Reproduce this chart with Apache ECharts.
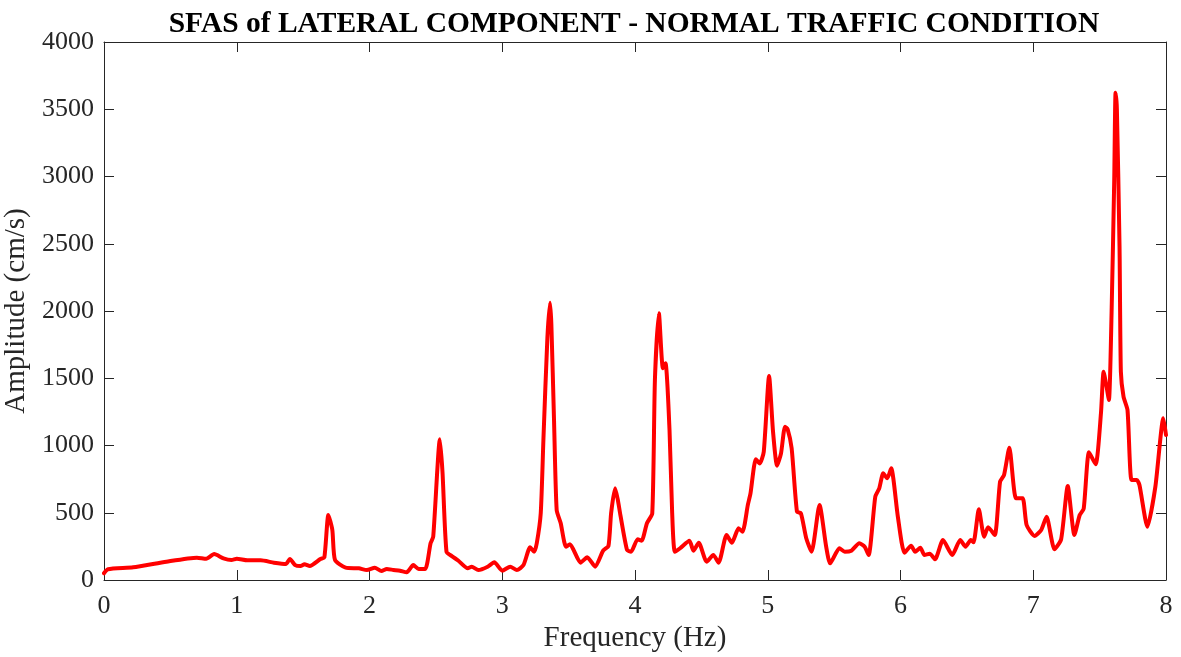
<!DOCTYPE html>
<html>
<head>
<meta charset="utf-8">
<script src="https://cdn.jsdelivr.net/npm/echarts@6/dist/echarts.min.js"></script>
<style>
html,body{margin:0;padding:0;background:#fff;}
#chart{width:1181px;height:657px;}
</style>
</head>
<body>
<div id="chart"></div>
<script>
const titleText = 'SFAS of LATERAL COMPONENT - NORMAL TRAFFIC CONDITION';
const xName = 'Frequency (Hz)';
const yName = 'Amplitude (cm/s)';

const freq = [0,0.03,0.22,0.47,0.70,0.77,0.83,0.90,0.96,1.00,1.08,1.18,1.28,1.37,1.40,1.44,1.48,1.51,1.55,1.63,1.66,1.69,1.72,1.74,1.82,1.92,1.98,2.04,2.09,2.13,2.18,2.23,2.28,2.33,2.37,2.42,2.46,2.48,2.53,2.55,2.58,2.62,2.67,2.74,2.77,2.82,2.89,2.94,3.00,3.06,3.11,3.16,3.21,3.24,3.26,3.29,3.31,3.34,3.36,3.37,3.39,3.41,3.44,3.48,3.51,3.59,3.64,3.70,3.76,3.80,3.82,3.85,3.87,3.89,3.94,3.97,4.02,4.05,4.09,4.13,4.15,4.18,4.21,4.23,4.26,4.28,4.30,4.34,4.41,4.44,4.48,4.54,4.59,4.63,4.69,4.73,4.78,4.81,4.85,4.87,4.91,4.94,4.97,5.01,5.04,5.07,5.10,5.13,5.15,5.18,5.22,5.25,5.29,5.33,5.39,5.44,5.47,5.54,5.58,5.63,5.69,5.73,5.76,5.81,5.84,5.87,5.90,5.93,5.98,6.03,6.08,6.11,6.15,6.18,6.22,6.26,6.32,6.39,6.45,6.49,6.53,6.55,6.59,6.63,6.66,6.71,6.75,6.78,6.82,6.87,6.92,6.95,7.01,7.06,7.10,7.16,7.21,7.26,7.31,7.35,7.38,7.42,7.47,7.51,7.53,7.55,7.57,7.59,7.61,7.62,7.63,7.65,7.66,7.68,7.71,7.74,7.78,7.80,7.86,7.92,7.98,8.00];
const amp = [50,80,94,136,166,158,193,161,149,158,146,146,129,119,156,111,104,117,104,156,169,483,372,149,92,87,74,92,67,82,75,69,57,111,82,82,273,322,1046,800,210,178,143,87,99,74,99,132,69,99,74,111,243,210,273,498,1041,1800,2062,1900,1190,520,424,248,265,129,169,99,218,253,496,682,600,483,223,210,303,292,422,496,1487,1983,1574,1611,1115,498,210,236,292,218,277,136,186,129,335,277,384,359,558,644,897,867,954,1517,1100,850,942,1140,1120,979,508,496,310,210,558,248,124,236,210,218,273,248,186,619,682,793,756,830,471,203,255,210,240,186,196,154,297,186,297,248,297,280,526,322,392,335,731,781,984,607,607,409,327,372,471,228,303,699,335,483,530,950,860,1239,1549,1450,1338,1985,2974,3623,3500,2478,1549,1363,1264,744,744,706,396,694,1202,1078];

const xTicks = [0,1,2,3,4,5,6,7,8];
const yTicks = [0,500,1000,1500,2000,2500,3000,3500,4000];

const seriesData = freq.map((f, i) => [f, amp[i]]);

const FONT = '"Liberation Serif","Times New Roman",serif';
const AX = '#262626';

const chart = echarts.init(document.getElementById('chart'), null, {renderer: 'canvas'});

const baseX = {
  type: 'value', min: xTicks[0], max: xTicks[xTicks.length-1], interval: 1,
  axisLine: {show: true, onZero: false, lineStyle: {color: AX, width: 1}},
  axisTick: {show: true, inside: true, length: 10, lineStyle: {color: AX, width: 1}},
  splitLine: {show: false}
};
const baseY = {
  type: 'value', min: yTicks[0], max: yTicks[yTicks.length-1], interval: 500,
  axisLine: {show: true, onZero: false, lineStyle: {color: AX, width: 1}},
  axisTick: {show: true, inside: true, length: 10, lineStyle: {color: AX, width: 1}},
  splitLine: {show: false}
};

chart.setOption({
  animation: false,
  backgroundColor: '#ffffff',
  title: {
    text: titleText,
    left: 629, top: 4, textAlign: 'center',
    textStyle: {fontFamily: FONT, fontWeight: 'bold', fontSize: 29.5, color: '#000'}
  },
  grid: {left: 104, right: 15, top: 42, bottom: 77, containLabel: false, outerBoundsMode: 'none'},
  xAxis: [
    Object.assign({}, baseX, {
      position: 'bottom',
      name: xName, nameLocation: 'middle', nameGap: 44,
      nameTextStyle: {fontFamily: FONT, fontSize: 29, color: AX},
      axisLabel: {show: true, margin: 13, fontFamily: FONT, fontSize: 26, color: AX,
        formatter: v => String(v)}
    }),
    Object.assign({}, baseX, {position: 'top', axisLabel: {show: false}})
  ],
  yAxis: [
    Object.assign({}, baseY, {
      position: 'left',
      name: yName, nameLocation: 'middle', nameGap: 53, nameRotate: 90,
      nameTextStyle: {fontFamily: FONT, fontSize: 29, color: AX},
      axisLabel: {show: true, margin: 10, fontFamily: FONT, fontSize: 26, color: AX,
        formatter: v => String(v)}
    }),
    Object.assign({}, baseY, {position: 'right', axisLabel: {show: false}})
  ],
  series: [{
    type: 'line',
    xAxisIndex: 0, yAxisIndex: 0,
    data: seriesData,
    showSymbol: false,
    symbol: 'none',
    smooth: 0.2,
    lineStyle: {color: '#ff0000', width: 4, join: 'round', cap: 'round'},
    clip: true
  }]
});
</script>
</body>
</html>
